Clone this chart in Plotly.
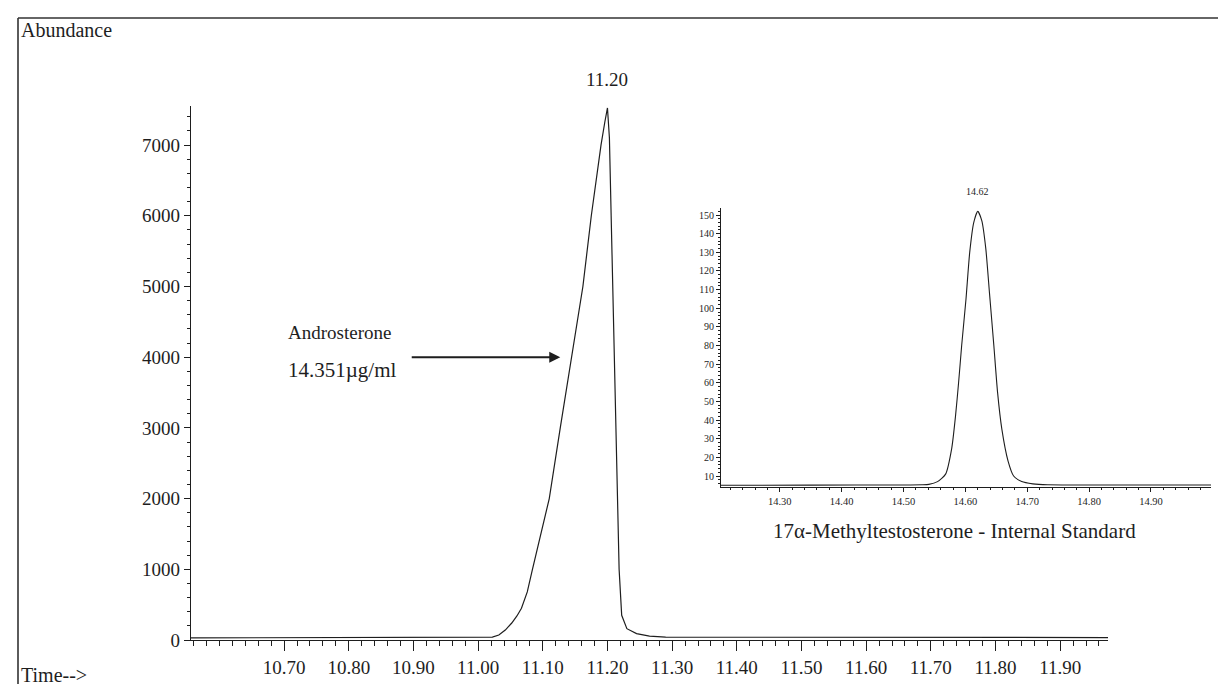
import plotly.graph_objects as go

W, H = 1226, 697

# ---- Main chromatogram: Androsterone (time in min, abundance) ----
main_time = [10.556, 10.70, 10.85, 11.000, 11.022, 11.032, 11.042, 11.052, 11.060,
             11.067, 11.076, 11.084, 11.097, 11.110, 11.127, 11.145, 11.162, 11.175,
             11.182, 11.190, 11.196, 11.200, 11.203, 11.206, 11.209, 11.212, 11.215,
             11.218, 11.222, 11.230, 11.245, 11.265, 11.290, 11.50, 11.75, 11.974]
main_abund = [30, 30, 32, 35, 40, 70, 140, 240, 340,
              450, 680, 1000, 1480, 2000, 3000, 4000, 5000, 6000,
              6500, 7000, 7330, 7525, 7100, 5900, 4600, 3300, 2000,
              1000, 350, 160, 90, 55, 40, 36, 35, 35]

main_xticks = [10.70, 10.80, 10.90, 11.00, 11.10, 11.20, 11.30, 11.40, 11.50,
               11.60, 11.70, 11.80, 11.90]
main_yticks = [0, 1000, 2000, 3000, 4000, 5000, 6000, 7000]

# ---- Inset: 17a-Methyltestosterone internal standard ----
is_time = [14.205, 14.35, 14.50, 14.530, 14.541, 14.555, 14.568, 14.578, 14.584,
           14.589, 14.594, 14.601, 14.607, 14.6135, 14.620, 14.6265, 14.633, 14.639,
           14.646, 14.652, 14.659, 14.669, 14.678, 14.691, 14.709, 14.733, 14.85, 14.997]
is_abund = [5.0, 5.1, 5.2, 5.3, 5.5, 7, 11, 25, 42,
            60, 80, 105, 130, 146, 152, 147, 132, 108,
            80, 55, 35, 18, 10, 7, 5.8, 5.3, 5.2, 5.2]

is_xticks = [14.30, 14.40, 14.50, 14.60, 14.70, 14.80, 14.90]
is_yticks = [10, 20, 30, 40, 50, 60, 70, 80, 90, 100, 110, 120, 130, 140, 150]

SERIF = "Liberation Serif, Times New Roman, serif"
INK = "#1e1e1e"

def px_x(p):
    return p / W

def px_y(p):
    return 1 - p / H

fig = go.Figure()
fig.add_trace(go.Scatter(x=main_time, y=main_abund, mode="lines",
                         line=dict(color=INK, width=1.2), xaxis="x", yaxis="y",
                         hoverinfo="skip"))
fig.add_trace(go.Scatter(x=is_time, y=is_abund, mode="lines",
                         line=dict(color=INK, width=1.1, shape="spline", smoothing=0.6),
                         xaxis="x2", yaxis="y2", hoverinfo="skip"))

fig.update_layout(
    width=W, height=H,
    margin=dict(l=0, r=0, t=0, b=0, pad=0, autoexpand=False),
    paper_bgcolor="white", plot_bgcolor="rgba(0,0,0,0)",
    showlegend=False,
    font=dict(family=SERIF, color=INK),
    xaxis=dict(domain=[px_x(183), px_x(1100)], anchor="y", range=[10.556, 11.974],
               tickvals=main_xticks, ticktext=[f"{v:.2f}" for v in main_xticks],
               ticks="outside", ticklen=10, tickwidth=1, tickcolor=INK,
               showline=True, linecolor=INK, linewidth=1.2, showgrid=False, zeroline=False,
               tickfont=dict(size=19, family=SERIF, color=INK),
               minor=dict(dtick=0.02, tick0=10.70, ticks="outside", ticklen=5,
                          tickcolor=INK, showgrid=False)),
    yaxis=dict(domain=[px_y(632), px_y(98)], anchor="x", range=[0, 7553],
               tickvals=main_yticks, ticktext=[str(v) for v in main_yticks],
               ticks="outside", ticklen=6, tickwidth=1, tickcolor=INK,
               showline=True, linecolor=INK, linewidth=1.2, showgrid=False, zeroline=False,
               tickfont=dict(size=19, family=SERIF, color=INK),
               minor=dict(dtick=200, tick0=0, ticks="outside", ticklen=3,
                          tickcolor=INK, showgrid=False)),
    xaxis2=dict(domain=[px_x(713), px_x(1203)], anchor="y2", range=[14.205, 14.997],
                tickvals=is_xticks, ticktext=[f"{v:.2f}" for v in is_xticks],
                ticks="outside", ticklen=4, tickwidth=1, tickcolor=INK,
                showline=True, linecolor=INK, linewidth=1.2, showgrid=False, zeroline=False,
                tickfont=dict(size=10.5, family=SERIF, color=INK),
                minor=dict(dtick=0.02, tick0=14.30, ticks="outside", ticklen=2,
                           tickcolor=INK, showgrid=False)),
    yaxis2=dict(domain=[px_y(479), px_y(200)], anchor="x2", range=[4.1, 153.8],
                tickvals=is_yticks, ticktext=[str(v) for v in is_yticks],
                ticks="outside", ticklen=4, tickwidth=1, tickcolor=INK,
                showline=True, linecolor=INK, linewidth=1.2, showgrid=False, zeroline=False,
                tickfont=dict(size=10, family=SERIF, color=INK),
                minor=dict(dtick=2, tick0=0, ticks="outside", ticklen=2,
                           tickcolor=INK, showgrid=False)),
)

# Page frame
frame = dict(color="#333", width=1.6)
fig.add_shape(type="line", xref="paper", yref="paper", x0=px_x(10), y0=px_y(10), x1=px_x(1225), y1=px_y(10), line=frame)
fig.add_shape(type="line", xref="paper", yref="paper", x0=px_x(10), y0=px_y(10), x1=px_x(10), y1=px_y(676), line=frame)
fig.add_shape(type="line", xref="paper", yref="paper", x0=px_x(1224), y0=px_y(10), x1=px_x(1224), y1=px_y(690), line=dict(color="#666", width=1))
fig.add_shape(type="line", xref="paper", yref="paper", x0=px_x(10), y0=px_y(690), x1=px_x(1224), y1=px_y(690), line=dict(color="#aaa", width=1, dash="dot"))

ann = []
ann.append(dict(text="Abundance", xref="paper", yref="paper", x=px_x(11), y=px_y(22),
                xanchor="left", yanchor="middle", showarrow=False, font=dict(size=20)))
ann.append(dict(text="Time-->", xref="paper", yref="paper", x=px_x(11), y=px_y(667),
                xanchor="left", yanchor="middle", showarrow=False, font=dict(size=20)))
ann.append(dict(text="11.20", xref="x", yref="y", x=11.20, y=7525, xanchor="center",
                yanchor="bottom", yshift=16, showarrow=False, font=dict(size=19)))
ann.append(dict(text="Androsterone", xref="paper", yref="paper", x=px_x(278), y=px_y(324),
                xanchor="left", yanchor="middle", showarrow=False, font=dict(size=19)))
ann.append(dict(text="14.351µg/ml", xref="paper", yref="paper", x=px_x(278), y=px_y(362),
                xanchor="left", yanchor="middle", showarrow=False, font=dict(size=21)))
ann.append(dict(text="", xref="x", yref="y", x=11.127, y=4000, axref="x", ayref="y",
                ax=10.895, ay=4000, showarrow=True, arrowhead=2, arrowsize=1.1,
                arrowwidth=2, arrowcolor=INK))
ann.append(dict(text="14.62", xref="x2", yref="y2", x=14.62, y=152, xanchor="center",
                yanchor="bottom", yshift=12, showarrow=False, font=dict(size=10)))
ann.append(dict(text="17α-Methyltestosterone - Internal Standard", xref="paper", yref="paper",
                x=px_x(946), y=px_y(523), xanchor="center", yanchor="middle",
                showarrow=False, font=dict(size=21)))
fig.update_layout(annotations=ann)

fig.write_html("out.html")
